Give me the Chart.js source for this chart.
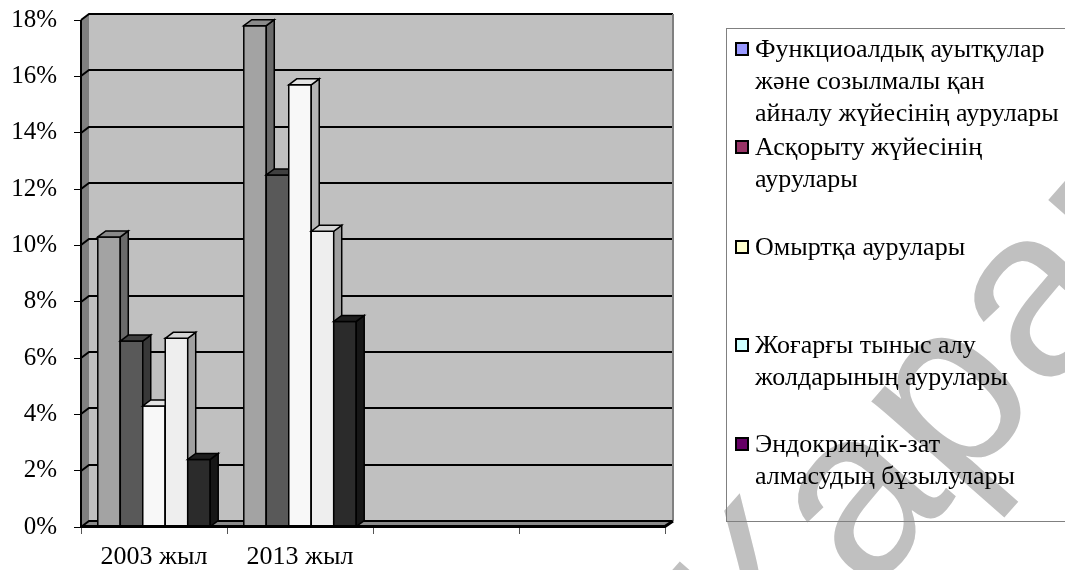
<!DOCTYPE html>
<html>
<head>
<meta charset="utf-8">
<script src="https://cdn.jsdelivr.net/npm/chart.js@4.4.1/dist/chart.umd.min.js"></script>
<style>
  html, body { margin: 0; padding: 0; background: #fff; }
  #wrap { width: 1065px; height: 570px; }
</style>
</head>
<body>
<div id="wrap"><canvas id="chart" width="1065" height="570"></canvas></div>
<script>
// data (percent)
const categories = ['2003 жыл', '2013 жыл', '', ''];
const seriesNames = [
  ['Функциоалдық ауытқулар', 'және созылмалы қан', 'айналу жүйесінің аурулары'],
  ['Асқорыту жүйесінің', 'аурулары'],
  ['Омыртқа аурулары'],
  ['Жоғарғы тыныс алу', 'жолдарының аурулары'],
  ['Эндокриндік-зат', 'алмасудың бұзылулары']
];
const circulatory = [10.3, 17.8, null, null];
const digestive = [6.6, 12.5, null, null];
const spine = [4.3, 15.7, null, null];
const respiratory = [6.7, 10.5, null, null];
const endocrine = [2.4, 7.3, null, null];
const yMax = 18;
const yStep = 2;
const watermark = 'Қарағанды';

// styles
const frontColors = ['#a3a3a3', '#595959', '#f8f8f8', '#eeeeee', '#2b2b2b'];
const topColors = ['#8a8a8a', '#404040', '#e4e4e4', '#d6d6d6', '#1e1e1e'];
const sideColors = ['#6a6a6a', '#383838', '#b4b4b4', '#a0a0a0', '#161616'];
const legendColors = ['#9999ff', '#993366', '#ffffcc', '#ccffff', '#660066'];
const legendEntryY = [49, 147, 247, 345, 444];
const SERIF = '"Liberation Serif", "Times New Roman", serif';

const WALL_DX = 8, WALL_DY = -6;
const BAR_DX = 8, BAR_DY = -6;

function poly(ctx, pts, fill) {
  ctx.beginPath();
  ctx.moveTo(pts[0][0], pts[0][1]);
  for (let i = 1; i < pts.length; i++) ctx.lineTo(pts[i][0], pts[i][1]);
  ctx.closePath();
  ctx.fillStyle = fill;
  ctx.fill();
  ctx.stroke();
}

// faint diagonal watermark in the lower right corner
const watermarkPlugin = {
  id: 'watermark',
  beforeDraw(chart) {
    const ctx = chart.ctx;
    ctx.save();
    ctx.translate(776, 702);
    ctx.rotate(-48.7 * Math.PI / 180);
    ctx.font = '240px "Liberation Sans", Arial, sans-serif';
    ctx.fillStyle = '#c0c0c0';
    ctx.textBaseline = 'alphabetic';
    ctx.fillText(watermark, 0, 0);
    ctx.restore();
  }
};

const wallsPlugin = {
  id: 'walls',
  beforeDatasetsDraw(chart) {
    const { ctx, chartArea: a, scales: { y } } = chart;
    ctx.save();
    ctx.strokeStyle = '#000';
    ctx.lineWidth = 1;
    // back wall
    ctx.fillStyle = '#c0c0c0';
    ctx.fillRect(a.left + WALL_DX, a.top + WALL_DY, a.right - a.left, a.bottom - a.top);
    // side wall
    ctx.beginPath();
    ctx.moveTo(a.left, a.top);
    ctx.lineTo(a.left + WALL_DX, a.top + WALL_DY);
    ctx.lineTo(a.left + WALL_DX, a.bottom + WALL_DY);
    ctx.lineTo(a.left, a.bottom);
    ctx.closePath();
    ctx.fillStyle = '#808080';
    ctx.fill();
    // floor
    ctx.beginPath();
    ctx.moveTo(a.left, a.bottom);
    ctx.lineTo(a.left + WALL_DX, a.bottom + WALL_DY);
    ctx.lineTo(a.right + WALL_DX, a.bottom + WALL_DY);
    ctx.lineTo(a.right, a.bottom);
    ctx.closePath();
    ctx.fillStyle = '#8a8a8a';
    ctx.fill();
    // gridlines on the back and side wall
    ctx.lineWidth = 2;
    ctx.strokeStyle = '#000';
    for (let v = 0; v <= yMax; v += yStep) {
      const py = Math.round(y.getPixelForValue(v));
      ctx.beginPath();
      ctx.moveTo(a.left, py);
      ctx.lineTo(a.left + WALL_DX, py + WALL_DY);
      ctx.lineTo(a.right + WALL_DX, py + WALL_DY);
      ctx.stroke();
    }
    // right edge of back wall
    ctx.strokeStyle = '#808080';
    ctx.beginPath();
    ctx.moveTo(a.right + WALL_DX, a.top + WALL_DY);
    ctx.lineTo(a.right + WALL_DX, a.bottom + WALL_DY);
    ctx.stroke();
    // front vertical axis
    ctx.strokeStyle = '#000';
    ctx.beginPath();
    ctx.moveTo(a.left, a.top);
    ctx.lineTo(a.left, a.bottom);
    ctx.stroke();
    ctx.restore();
  },
  afterDatasetsDraw(chart) {
    const { ctx, chartArea: a } = chart;
    ctx.save();
    ctx.strokeStyle = '#000';
    ctx.lineWidth = 1.5;
    ctx.lineJoin = 'miter';
    for (let i = 0; i < chart.data.labels.length; i++) {
      chart.data.datasets.forEach((ds, di) => {
        const el = chart.getDatasetMeta(di).data[i];
        if (!el || ds.data[i] == null) return;
        const { x, y, base, width } = el.getProps(['x', 'y', 'base', 'width'], true);
        const l = x - width / 2, r = x + width / 2;
        poly(ctx, [[l, y], [r, y], [r, base], [l, base]], frontColors[di]);
        poly(ctx, [[r, y], [r + BAR_DX, y + BAR_DY], [r + BAR_DX, base + BAR_DY], [r, base]], sideColors[di]);
        poly(ctx, [[l, y], [l + BAR_DX, y + BAR_DY], [r + BAR_DX, y + BAR_DY], [r, y]], topColors[di]);
      });
    }
    // front edge of floor
    ctx.lineWidth = 3;
    ctx.beginPath();
    ctx.moveTo(a.left, a.bottom - 0.5);
    ctx.lineTo(a.right, a.bottom - 0.5);
    ctx.lineTo(a.right + WALL_DX, a.bottom + WALL_DY);
    ctx.stroke();
    ctx.restore();
  }
};

const legendPlugin = {
  id: 'sideLegend',
  afterDraw(chart) {
    const ctx = chart.ctx;
    ctx.save();
    ctx.strokeStyle = '#808080';
    ctx.lineWidth = 1;
    ctx.strokeRect(726.5, 28.5, 400, 493);
    ctx.font = '26px ' + SERIF;
    ctx.textBaseline = 'middle';
    seriesNames.forEach((lines, i) => {
      const y0 = legendEntryY[i];
      ctx.fillStyle = legendColors[i];
      ctx.fillRect(736, y0 - 6, 12, 12);
      ctx.lineWidth = 2;
      ctx.strokeStyle = '#000';
      ctx.strokeRect(736, y0 - 6, 12, 12);
      ctx.fillStyle = '#000';
      lines.forEach((t, k) => ctx.fillText(t, 755, y0 + 1 + k * 32));
    });
    ctx.restore();
  }
};

const makeSet = (i, data) => ({
  label: seriesNames[i].join(' '),
  data: data,
  backgroundColor: frontColors[i],
  borderColor: '#000',
  borderWidth: 1,
  categoryPercentage: 0.77,
  barPercentage: 1.0
});

new Chart(document.getElementById('chart').getContext('2d'), {
  type: 'bar',
  data: {
    labels: categories,
    datasets: [
      makeSet(0, circulatory),
      makeSet(1, digestive),
      makeSet(2, spine),
      makeSet(3, respiratory),
      makeSet(4, endocrine)
    ]
  },
  options: {
    responsive: false,
    animation: false,
    layout: { padding: { top: 20, right: 400, left: 0, bottom: 0 } },
    plugins: {
      legend: { display: false },
      tooltip: { enabled: false }
    },
    scales: {
      x: {
        afterFit: (s) => { s.height = 43; },
        grid: { drawOnChartArea: false, tickLength: 7, color: '#555', lineWidth: 1 },
        border: { display: false },
        ticks: { color: '#000', font: { family: SERIF, size: 26 }, padding: 8, maxRotation: 0 }
      },
      y: {
        min: 0,
        max: yMax,
        afterFit: (s) => { s.width = 81; s.paddingTop = 0; s.paddingBottom = 0; },
        grid: { drawOnChartArea: false, tickLength: 7, color: '#000', lineWidth: 1 },
        border: { display: false },
        ticks: {
          stepSize: yStep,
          color: '#000',
          padding: 17,
          font: { family: SERIF, size: 25 },
          callback: (v) => v + '%'
        }
      }
    }
  },
  plugins: [watermarkPlugin, wallsPlugin, legendPlugin]
});
</script>
</body>
</html>
